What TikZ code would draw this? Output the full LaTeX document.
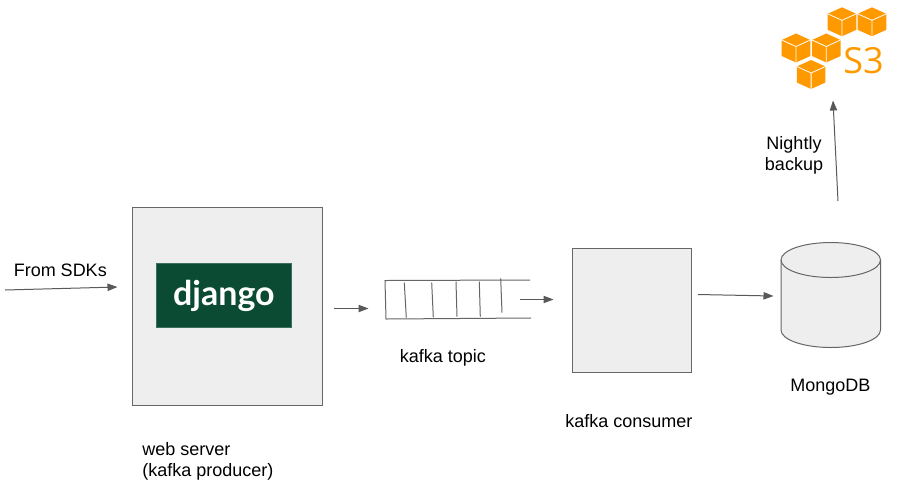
\documentclass[tikz,border=0pt]{standalone}
\usepackage{fontspec}
\setmainfont{Liberation Sans}
\newfontfamily\djangofont{Lato}
\newfontfamily\sthree{Open Sans}
\usetikzlibrary{arrows.meta}
\definecolor{boxfill}{HTML}{EEEEEE}
\definecolor{edgegrey}{HTML}{666666}
\definecolor{arrowgrey}{HTML}{595959}
\definecolor{djgreen}{HTML}{0C4B33}
\definecolor{awsorange}{HTML}{FF9900}
\newcommand{\awscube}[3]{% left x, top y, name
  \begin{scope}[shift={(#1,#2)}]
    \fill[awsorange] (14.3,0) -- (28.6,6.5) -- (28.6,22.5) -- (14.3,29) -- (0,22.5) -- (0,6.5) -- cycle;
    \draw[white,line width=0.6pt] (0,6.5) -- (14.3,13) -- (28.6,6.5) (14.3,13) -- (14.3,29);
  \end{scope}}
\tikzset{
  x=0.75pt,y=-0.75pt,
  greybox/.style={draw=edgegrey,fill=boxfill,line width=0.75pt,inner sep=0,outer sep=0,anchor=north west},
  flow/.style={draw=arrowgrey,line width=0.75pt,-{Triangle[length=7.5pt,width=5.5pt]}},
  thinline/.style={draw=edgegrey,line width=0.75pt},
  caption/.style={font=\fontsize{13.5pt}{16pt}\selectfont,text=black,inner sep=0,align=left},
}
\begin{document}
\begin{tikzpicture}
\useasboundingbox (0,0) rectangle (904,487);
\fill[white] (0,0) rectangle (904,487);
% web server
\node[greybox,minimum width=142pt,minimum height=148.5pt] (web) at (132.7,207.5) {};
\node[fill=djgreen,draw=djgreen!80!white,line width=0.4pt,inner sep=0,minimum width=101.5pt,minimum height=48pt,anchor=north west,text=white] (django) at (156,263.2) {\djangofont\bfseries\fontsize{25.5pt}{25.5pt}\selectfont django};
% consumer
\node[greybox,minimum width=89.5pt,minimum height=93pt] (consumer) at (572,248) {};
% queue
\coordinate (qtl) at (385,280.5);
\coordinate (qtr) at (530,280);
\coordinate (qbl) at (386,319);
\coordinate (qbr) at (531,318);
\draw[thinline] (qtr) -- (qtl) -- (qbl) -- (qbr);
\draw[thinline] (404.3,282.7) -- (406.3,317.7);
\draw[thinline] (431.7,282.7) -- (433.3,317.3);
\draw[thinline] (456,281.7) -- (457,316.7);
\draw[thinline] (479.3,281.7) -- (480.3,316.7);
\draw[thinline] (500.7,278.3) -- (502,312.7);
% cylinder
\draw[thinline,fill=boxfill] (781,260) -- (781,330) arc[start angle=180,end angle=360,x radius=49.75,y radius=-17.5] -- (880.5,260) arc[start angle=0,end angle=180,x radius=49.75,y radius=-17.5] -- cycle;
\draw[thinline] (781,260) arc[start angle=180,end angle=360,x radius=49.75,y radius=-17.5];
% connectors
\coordinate (sdk) at (5,290);
\coordinate (sdkend) at (117.5,287);
\coordinate (a1s) at (334,308.5);
\coordinate (a1e) at (368.5,308.5);
\coordinate (a2s) at (520,299.5);
\coordinate (a2e) at (553.5,299.5);
\coordinate (a3s) at (698,294.5);
\coordinate (a3e) at (773.5,296);
\coordinate (a4s) at (838,201);
\coordinate (a4e) at (833,100.5);
\draw[flow] (sdk) -- (sdkend);
\draw[flow] (a1s) -- (a1e);
\draw[flow] (a2s) -- (a2e);
\draw[flow] (a3s) -- (a3e);
\draw[flow] (a4s) -- (a4e);
% labels
\node[caption,anchor=west] (lsdk) at (13.5,270) {From SDKs};
\node[caption,anchor=north west] (lweb) at (142,442) {web server\\(kafka producer)};
\node[caption,anchor=west] (ltopic) at (399.5,357.5) {kafka topic};
\node[caption,anchor=west] (lcons) at (565,421.5) {kafka consumer};
\node[caption,anchor=west] (lmongo) at (790,387) {MongoDB};
\node[caption,anchor=north,align=center] (lnight) at (794,136) {Nightly\\backup};
% S3
\awscube{827.7}{7.3}{a}
\awscube{857.7}{7.3}{b}
\awscube{781.7}{33.5}{c}
\awscube{812}{33.5}{d}
\awscube{796.8}{60}{e}
\node[text=awsorange,inner sep=0,anchor=center] (s3) at (863.5,61) {\sthree\fontsize{27pt}{27pt}\selectfont S3};
\end{tikzpicture}
\end{document}
